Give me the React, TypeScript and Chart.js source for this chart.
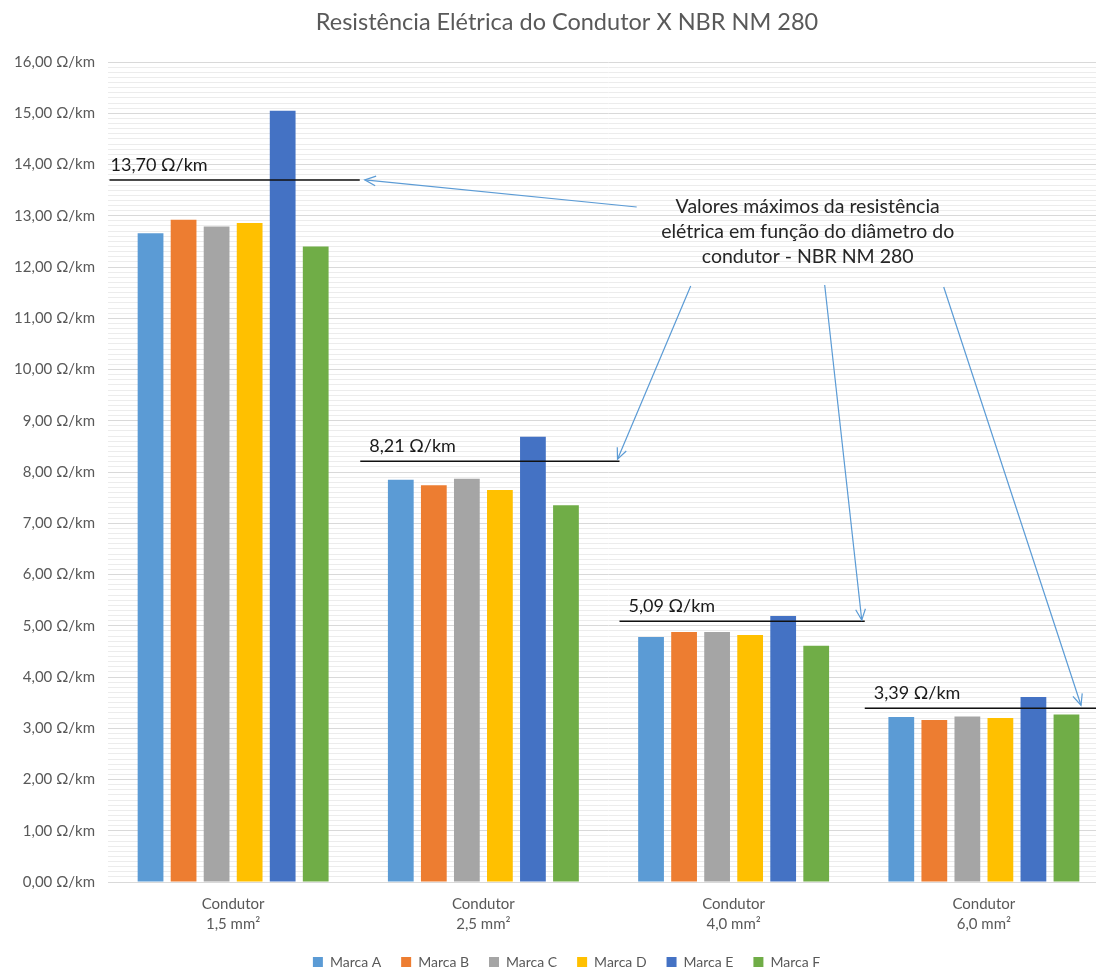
import React, { useEffect, useRef } from "react";
import { Chart, registerables } from "chart.js";

Chart.register(...registerables);

const titleText = "Resistência Elétrica do Condutor X NBR NM 280";
const categories = [
  ["Condutor", "1,5 mm²"],
  ["Condutor", "2,5 mm²"],
  ["Condutor", "4,0 mm²"],
  ["Condutor", "6,0 mm²"],
];
const seriesNames = ["Marca A", "Marca B", "Marca C", "Marca D", "Marca E", "Marca F"];
const marcaA = [12.66, 7.85, 4.78, 3.22];
const marcaB = [12.92, 7.74, 4.88, 3.16];
const marcaC = [12.79, 7.87, 4.88, 3.23];
const marcaD = [12.86, 7.65, 4.82, 3.2];
const marcaE = [15.05, 8.69, 5.19, 3.61];
const marcaF = [12.4, 7.35, 4.61, 3.27];
const seriesColors = ["#5B9BD5", "#ED7D31", "#A5A5A5", "#FFC000", "#4472C4", "#70AD47"];
const maxLimits = [13.7, 8.21, 5.09, 3.39];
const maxLimitLabels = ["13,70 Ω/km", "8,21 Ω/km", "5,09 Ω/km", "3,39 Ω/km"];
const noteLines = [
  "Valores máximos da resistência",
  "elétrica em função do diâmetro do",
  "condutor - NBR NM 280",
];
const yMin = 0;
const yMax = 16;
const yMinorStep = 0.1;

const FONT = "Lato, 'Noto Sans', 'DejaVu Sans', sans-serif";
const CANVAS_W = 1109;
const CANVAS_H = 971;

function drawArrow(ctx: CanvasRenderingContext2D, x1: number, y1: number, x2: number, y2: number) {
  ctx.beginPath();
  ctx.moveTo(x1, y1);
  ctx.lineTo(x2, y2);
  ctx.stroke();
  const ang = Math.atan2(y2 - y1, x2 - x1);
  const len = 12;
  const spread = 0.42;
  ctx.beginPath();
  ctx.moveTo(x2 - len * Math.cos(ang - spread), y2 - len * Math.sin(ang - spread));
  ctx.lineTo(x2, y2);
  ctx.lineTo(x2 - len * Math.cos(ang + spread), y2 - len * Math.sin(ang + spread));
  ctx.stroke();
}

const overlayPlugin = {
  id: "overlay",
  afterLayout(chart: any) {
    if (chart.legend) {
      chart.legend.left += 12;
      chart.legend.right += 12;
    }
  },
  afterDatasetsDraw(chart: any) {
    const { ctx, chartArea, scales } = chart;
    const xs = scales.x;
    const ys = scales.y;
    const cw = xs.getPixelForValue(1) - xs.getPixelForValue(0);
    const b0 = xs.getPixelForValue(0) - cw / 2;
    const bounds = [0, 1, 2, 3, 4].map((i) => b0 + i * cw);
    const startShift = [0.006, 0.008, 0.044, 0.024];
    const endShift = [0.006, 0.044, 0.024, 0];
    const ends: number[] = [];
    ctx.save();
    ctx.strokeStyle = "#111111";
    ctx.lineWidth = 1.5;
    ctx.fillStyle = "#1a1a1a";
    ctx.font = `18px ${FONT}`;
    ctx.textBaseline = "alphabetic";
    ctx.textAlign = "left";
    maxLimits.forEach((v, i) => {
      const xa = bounds[i] + startShift[i] * cw;
      const xb = bounds[i + 1] + endShift[i] * cw;
      ends.push(xb);
      const yp = ys.getPixelForValue(v);
      ctx.beginPath();
      ctx.moveTo(xa, yp);
      ctx.lineTo(xb, yp);
      ctx.stroke();
      ctx.fillText(maxLimitLabels[i], xa + (i === 0 ? 1 : 9), yp - 9);
    });

    // note text
    const cx = chartArea.left + 0.699 * (chartArea.right - chartArea.left);
    const ny = chartArea.top + 145;
    ctx.textAlign = "center";
    ctx.textBaseline = "middle";
    ctx.fillStyle = "#262626";
    ctx.font = `19.5px ${FONT}`;
    noteLines.forEach((t, i) => ctx.fillText(t, cx, ny + i * 25));

    // arrows
    ctx.strokeStyle = "#5B9BD5";
    ctx.lineWidth = 1.2;
    const bottomNote = ny + 2 * 25;
    drawArrow(ctx, cx - 171, ny, ends[0] + 5, ys.getPixelForValue(maxLimits[0]));
    drawArrow(ctx, cx - 117, bottomNote + 29, ends[1] - 2, ys.getPixelForValue(maxLimits[1]) - 2);
    drawArrow(ctx, cx + 17, bottomNote + 28, ends[2] - 3, ys.getPixelForValue(maxLimits[2]) - 1);
    drawArrow(ctx, cx + 136, bottomNote + 30, bounds[4] - 28, ys.getPixelForValue(maxLimits[3]) - 3);

    // title
    ctx.fillStyle = "#595959";
    ctx.font = `23.5px ${FONT}`;
    ctx.textAlign = "center";
    ctx.textBaseline = "middle";
    ctx.fillText(titleText, 567, 22);
    ctx.restore();
  },
};

export default function App() {
  const canvasRef = useRef<HTMLCanvasElement | null>(null);

  useEffect(() => {
    const canvas = canvasRef.current;
    if (!canvas) return;
    const seriesData = [marcaA, marcaB, marcaC, marcaD, marcaE, marcaF];
    const chart = new Chart(canvas, {
      type: "bar",
      data: {
        labels: categories,
        datasets: seriesNames.map((name, i) => ({
          label: name,
          data: seriesData[i],
          backgroundColor: seriesColors[i],
          borderWidth: 0,
          categoryPercentage: 0.792,
          barPercentage: 0.78,
        })),
      },
      options: {
        responsive: false,
        animation: false,
        layout: { padding: { top: 62, right: 0, bottom: -8, left: 0 } },
        plugins: {
          title: { display: false },
          tooltip: { enabled: false },
          legend: {
            position: "bottom",
            labels: {
              boxWidth: 10,
              boxHeight: 10,
              padding: 20,
              color: "#595959",
              font: { family: FONT, size: 14 },
            },
          },
        },
        scales: {
          x: {
            grid: { display: false, drawTicks: false },
            border: { display: true, color: "#d9d9d9", width: 1 },
            ticks: {
              color: "#595959",
              font: { family: FONT, size: 15, lineHeight: 1.35 },
              padding: 12,
              maxRotation: 0,
              autoSkip: false,
            },
            afterFit: (scale: any) => {
              scale.height = 53;
            },
          },
          y: {
            min: yMin,
            max: yMax,
            border: { display: false },
            grid: {
              drawTicks: false,
              color: (c: any) => {
                const n = Math.round((c.tick ? c.tick.value : 0) * 10);
                return n % 10 === 0 ? "#d9d9d9" : "#ececec";
              },
              lineWidth: 1,
            },
            ticks: {
              stepSize: yMinorStep,
              autoSkip: false,
              color: "#595959",
              font: { family: FONT, size: 15 },
              padding: 13,
              callback: (v: any) => {
                const n = Math.round(Number(v) * 10);
                if (n % 10 !== 0) return "";
                return (n / 10).toFixed(2).replace(".", ",") + " Ω/km";
              },
            },
            afterFit: (scale: any) => {
              scale.width = 108;
            },
          },
        },
      },
      plugins: [overlayPlugin],
    });
    return () => chart.destroy();
  }, []);

  return (
    <div
      style={{
        position: "absolute",
        left: 0,
        top: 0,
        width: 1096,
        height: CANVAS_H,
        overflow: "hidden",
        background: "#ffffff",
      }}
    >
      <canvas ref={canvasRef} width={CANVAS_W} height={CANVAS_H} />
    </div>
  );
}
